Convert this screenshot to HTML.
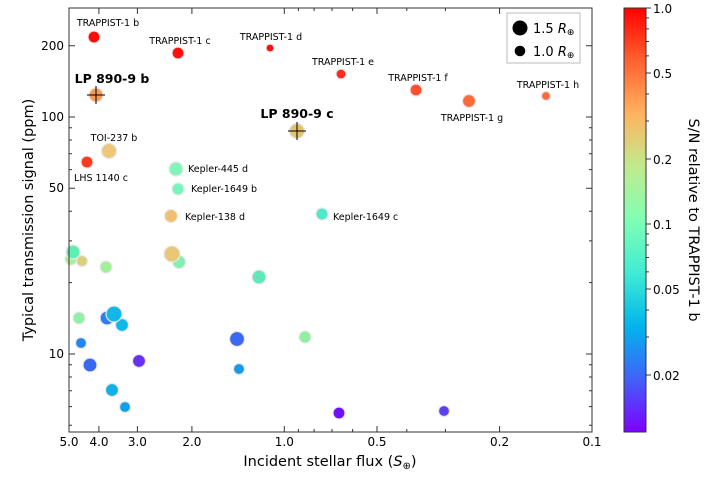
<!DOCTYPE html>
<html><head><meta charset="utf-8"><style>
body{margin:0;background:#fff;}
svg text{font-family:"DejaVu Sans","Liberation Sans",sans-serif;fill:#000;}
</style></head><body>
<svg width="708" height="473" viewBox="0 0 708 473" xmlns="http://www.w3.org/2000/svg">
<defs>
<linearGradient id="rb" x1="0" y1="1" x2="0" y2="0">
<stop offset="0" stop-color="#8000ff"/><stop offset="0.125" stop-color="#4062fa"/>
<stop offset="0.25" stop-color="#00b5eb"/><stop offset="0.375" stop-color="#40ecd4"/>
<stop offset="0.5" stop-color="#80ffb4"/><stop offset="0.625" stop-color="#c0eb8d"/>
<stop offset="0.75" stop-color="#ffb360"/><stop offset="0.875" stop-color="#ff6230"/>
<stop offset="1" stop-color="#ff0000"/>
</linearGradient>
</defs>
<g stroke="#e8e8e8" stroke-width="1.2">
<circle cx="71" cy="259" r="6" fill="#a8f098"/>
<circle cx="73" cy="252" r="7" fill="#5ef0b0"/>
<circle cx="82" cy="261" r="5.5" fill="#d8d080"/>
<circle cx="106" cy="267" r="6" fill="#a0f098"/>
<circle cx="179" cy="262" r="6.5" fill="#80f0b0"/>
<circle cx="172" cy="254" r="8" fill="#e8c878"/>
<circle cx="259" cy="277" r="7" fill="#60e8b8"/>
<circle cx="79" cy="318" r="6" fill="#90f0a8"/>
<circle cx="107" cy="318" r="7" fill="#2a80f0"/>
<circle cx="122" cy="325" r="6.5" fill="#10b8e8"/>
<circle cx="114" cy="314" r="8" fill="#10b8e8"/>
<circle cx="81" cy="343" r="5.5" fill="#2088f0"/>
<circle cx="237" cy="339" r="7.5" fill="#3a68f0"/>
<circle cx="305" cy="337" r="6" fill="#90f0a0"/>
<circle cx="90" cy="365" r="7" fill="#3a68f0"/>
<circle cx="139" cy="361" r="6.5" fill="#6a30f0"/>
<circle cx="239" cy="369" r="5.5" fill="#1898e8"/>
<circle cx="112" cy="390" r="6.5" fill="#10b0e8"/>
<circle cx="125" cy="407" r="5.5" fill="#10a0e8"/>
<circle cx="339" cy="413" r="6" fill="#7010f8"/>
<circle cx="444" cy="411" r="5.5" fill="#5a40f0"/>
<circle cx="94" cy="37" r="6" fill="#ff0a0a"/>
<circle cx="178" cy="53" r="6" fill="#ff1010"/>
<circle cx="270" cy="48" r="4" fill="#ff1010"/>
<circle cx="341" cy="74" r="5" fill="#ff2a20"/>
<circle cx="416" cy="90" r="6" fill="#ff5030"/>
<circle cx="469" cy="101" r="6.5" fill="#ff6a38"/>
<circle cx="546" cy="96" r="4.5" fill="#ff6a38"/>
<circle cx="87" cy="162" r="6" fill="#ff3a20"/>
<circle cx="109" cy="151" r="7.5" fill="#ecc878"/>
<circle cx="176" cy="169" r="7" fill="#80f5b8"/>
<circle cx="178" cy="189" r="6" fill="#78f5bc"/>
<circle cx="171" cy="216" r="6.5" fill="#f0c070"/>
<circle cx="322" cy="214" r="6" fill="#50e8c8"/>
<circle cx="96" cy="95" r="7" fill="#f89a58"/>
<circle cx="297" cy="131" r="7.5" fill="#e2c470"/>
</g>
<g stroke="#000" stroke-width="1">
<line x1="87" y1="95" x2="105" y2="95"/><line x1="96" y1="86" x2="96" y2="104"/>
<line x1="288" y1="131" x2="306" y2="131"/><line x1="297" y1="122" x2="297" y2="140"/>
</g>
<g font-size="9.5" text-anchor="middle">
<text x="108" y="26">TRAPPIST-1 b</text>
<text x="180" y="44">TRAPPIST-1 c</text>
<text x="271" y="40">TRAPPIST-1 d</text>
<text x="343" y="65">TRAPPIST-1 e</text>
<text x="418" y="81">TRAPPIST-1 f</text>
<text x="472" y="121">TRAPPIST-1 g</text>
<text x="548" y="88">TRAPPIST-1 h</text>
<text x="114" y="141">TOI-237 b</text>
<text x="101" y="181">LHS 1140 c</text>
</g>
<g font-size="9.5">
<text x="188" y="172">Kepler-445 d</text>
<text x="191" y="192">Kepler-1649 b</text>
<text x="185" y="220">Kepler-138 d</text>
<text x="333" y="220">Kepler-1649 c</text>
</g>
<g font-size="12.5" font-weight="bold" text-anchor="middle">
<text x="112" y="83">LP 890-9 b</text>
<text x="297" y="118">LP 890-9 c</text>
</g>
<rect x="69" y="8" width="523" height="424" fill="none" stroke="#333" stroke-width="1"/>
<g stroke="#333" stroke-width="1">
<path d="M69 432v-6M98.9 432v-6M137.4 432v-6M191.9 432v-6M284.3 432v-6M377 432v-6M499.6 432v-6M69 8v6M98.9 8v6M137.4 8v6M191.9 8v6M284.3 8v6M377 8v6M499.6 8v6"/>
<path d="M298.4 432v-3M314.1 432v-3M332 432v-3M352.6 432v-3M406.8 432v-3M445.4 432v-3M298.4 8v3M314.1 8v3M332 8v3M352.6 8v3M406.8 8v3M445.4 8v3"/>
<path d="M69 45.7h6M69 117h6M69 188.3h6M69 354h6M592 45.7h-6M592 117h-6M592 188.3h-6M592 354h-6"/>
<path d="M69 127.8h3M69 140h3M69 153.7h3M69 169.6h3M69 211.3h3M69 240.9h3M69 282.6h3M69 364.8h3M69 377h3M69 390.7h3M69 406.6h3M69 425.3h3M592 127.8h-3M592 140h-3M592 153.7h-3M592 169.6h-3M592 211.3h-3M592 240.9h-3M592 282.6h-3M592 364.8h-3M592 377h-3M592 390.7h-3M592 406.6h-3M592 425.3h-3"/>
</g>
<g font-size="12" text-anchor="middle">
<text x="69" y="446">5.0</text><text x="99" y="446">4.0</text><text x="137.4" y="446">3.0</text>
<text x="191.9" y="446">2.0</text><text x="284.3" y="446">1.0</text><text x="377" y="446">0.5</text>
<text x="499.6" y="446">0.2</text><text x="592" y="446">0.1</text>
</g>
<g font-size="12" text-anchor="end">
<text x="64" y="50">200</text><text x="64" y="121">100</text><text x="64" y="192">50</text><text x="64" y="358">10</text>
</g>
<text x="330" y="466" font-size="14.5" text-anchor="middle">Incident stellar flux (<tspan font-style="italic">S</tspan><tspan font-size="10" dy="3">⊕</tspan><tspan dy="-3">)</tspan></text>
<text transform="translate(33,220) rotate(-90)" font-size="14.5" text-anchor="middle">Typical transmission signal (ppm)</text>
<rect x="507" y="13" width="73" height="50" fill="#fff" stroke="#bbb" stroke-width="1"/>
<circle cx="520" cy="28" r="7.5" fill="#000"/>
<circle cx="520" cy="51" r="5.3" fill="#000"/>
<text x="533" y="33" font-size="13">1.5 <tspan font-style="italic">R</tspan><tspan font-size="9" dy="2">⊕</tspan></text>
<text x="533" y="56" font-size="13">1.0 <tspan font-style="italic">R</tspan><tspan font-size="9" dy="2">⊕</tspan></text>
<rect x="624" y="8" width="22" height="424" fill="url(#rb)" stroke="#333" stroke-width="1"/>
<g stroke="#333" stroke-width="1">
<path d="M646 8h5M646 73h5M646 159h5M646 224h5M646 289h5M646 375h5"/>
<path d="M646 17.9h3M646 28.9h3M646 41.5h3M646 55.9h3M646 94h3M646 121h3M646 233.9h3M646 245h3M646 257.5h3M646 271.9h3M646 310h3M646 337h3"/>
</g>
<g font-size="12">
<text x="653" y="13">1.0</text><text x="653" y="78">0.5</text><text x="653" y="164">0.2</text>
<text x="653" y="229">0.1</text><text x="653" y="294">0.05</text><text x="653" y="380">0.02</text>
</g>
<text transform="translate(689,220) rotate(90)" font-size="14.5" text-anchor="middle">S/N relative to TRAPPIST-1 b</text>
</svg>
</body></html>
